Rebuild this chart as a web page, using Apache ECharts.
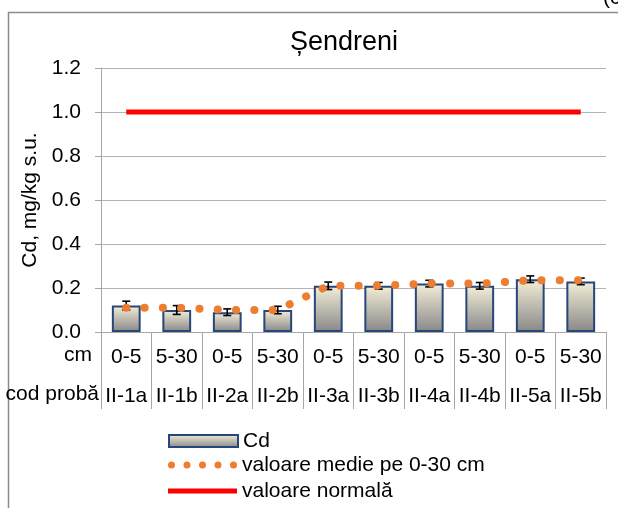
<!DOCTYPE html>
<html>
<head>
<meta charset="utf-8">
<script src="https://cdn.jsdelivr.net/npm/echarts@6/dist/echarts.min.js"></script>
<style>
  html, body { margin: 0; padding: 0; background: #fff; }
  #chart { width: 618px; height: 508px; }
</style>
</head>
<body>
<div id="chart"></div>
<script>
// date
var depths = ['0-5', '5-30', '0-5', '5-30', '0-5', '5-30', '0-5', '5-30', '0-5', '5-30'];
var sampleCodes = ['II-1a', 'II-1b', 'II-2a', 'II-2b', 'II-3a', 'II-3b', 'II-4a', 'II-4b', 'II-5a', 'II-5b'];
var cdValues = [0.12, 0.10, 0.09, 0.10, 0.21, 0.21, 0.22, 0.21, 0.24, 0.23];
var cdErr = [0.02, 0.02, 0.015, 0.017, 0.017, 0.015, 0.015, 0.015, 0.015, 0.015];
var meanValues = [0.11, 0.11, 0.10, 0.10, 0.21, 0.21, 0.22, 0.22, 0.235, 0.235];
var normalValues = [1.0, 1.0, 1.0, 1.0, 1.0, 1.0, 1.0, 1.0, 1.0, 1.0];
var yTicks = { min: 0, max: 1.2, interval: 0.2 };

var font = 'Liberation Sans, Arial, sans-serif';
var gray = '#a6a6a6';
var orange = '#ed7d31';

var chart = echarts.init(document.getElementById('chart'));

var barFill = new echarts.graphic.LinearGradient(0, 0, 0, 1, [
    { offset: 0, color: '#f4efd8' },
    { offset: 1, color: '#878787' }
]);

// iconul din legenda pentru linia punctata: 5 puncte
var dotsIcon = 'path://';
for (var k = 0; k < 5; k++) {
    var cx = 3.5 + k * 15.5;
    dotsIcon += 'M' + (cx - 3.5) + ',3.5a3.5,3.5 0 1,0 7,0a3.5,3.5 0 1,0 -7,0Z';
}

// o legenda pe rand, ca sa stea exact unde trebuie
function legendRow(name, top, icon, h) {
    return {
        orient: 'vertical',
        left: 168,
        top: top,
        padding: 0,
        itemWidth: 69,
        itemHeight: h,
        icon: icon,
        selectedMode: false,
        textStyle: { fontFamily: font, fontSize: 21, lineHeight: 24, color: '#000' },
        data: [name]
    };
}

var option = {
    backgroundColor: '#fff',
    animation: false,
    textStyle: { fontFamily: font },
    title: {
        text: 'Șendreni',
        left: 285,
        top: 24,
        textStyle: { fontFamily: font, fontSize: 27, fontWeight: 'normal', color: '#000' }
    },
    grid: { left: 101, right: 12, top: 68, bottom: 176 },
    legend: [
        legendRow('Cd', 429, 'rect', 12),
        legendRow('valoare medie pe 0-30 cm', 453, dotsIcon, 7),
        legendRow('valoare normală', 479, 'rect', 5)
    ],
    graphic: [
        { // chenarul graficului
            type: 'rect',
            shape: { x: 8.5, y: 12.5, width: 700, height: 600 },
            style: { fill: 'none', stroke: '#8c8c8c', lineWidth: 1.5 },
            silent: true
        },
        {
            type: 'text', left: 603, top: -12,
            style: { text: '(c', font: '21px ' + font, fill: '#000' }
        },
        {
            type: 'text', right: 618 - 92, top: 345,
            style: { text: 'cm', font: '21px ' + font, fill: '#000' }
        },
        {
            type: 'text', right: 618 - 99, top: 384,
            style: { text: 'cod probă', font: '21px ' + font, fill: '#000' }
        }
    ],
    xAxis: {
        type: 'category',
        data: depths,
        axisLine: { lineStyle: { color: gray, width: 1 } },
        axisTick: { show: true, interval: 0, length: 77, lineStyle: { color: gray } },
        axisLabel: {
            interval: 0,
            margin: 6,
            color: '#000',
            fontSize: 21,
            lineHeight: 39,
            fontFamily: font,
            formatter: function(v, i) { return v + '\n' + sampleCodes[i]; }
        }
    },
    yAxis: {
        type: 'value',
        min: yTicks.min,
        max: yTicks.max,
        interval: yTicks.interval,
        name: 'Cd, mg/kg s.u.',
        nameLocation: 'middle',
        nameGap: 58,
        nameTextStyle: { fontFamily: font, fontSize: 21, color: '#000' },
        axisLine: { show: true, lineStyle: { color: gray } },
        axisTick: { show: true, length: 6, lineStyle: { color: gray } },
        axisLabel: {
            color: '#000', fontSize: 21, fontFamily: font, margin: 20,
            formatter: function(v) { return v.toFixed(1); }
        },
        splitLine: { lineStyle: { color: '#b4b4b4', width: 1 } }
    },
    series: [
        {
            name: 'Cd',
            type: 'bar',
            data: cdValues,
            barWidth: '57%',
            itemStyle: { color: barFill, borderColor: '#27467a', borderWidth: 2 },
            z: 2
        },
        {
            name: 'err',
            type: 'custom',
            data: cdValues.map(function(v, i) { return [i, v, cdErr[i]]; }),
            encode: { x: 0, y: 1 },
            z: 3,
            renderItem: function(params, api) {
                var i = api.value(0), v = api.value(1), e = api.value(2);
                var top = api.coord([i, v + e]);
                var bot = api.coord([i, v - e]);
                var hw = 4;
                var st = { stroke: '#000', lineWidth: 1.6 };
                return {
                    type: 'group',
                    children: [
                        { type: 'line', shape: { x1: top[0], y1: top[1], x2: bot[0], y2: bot[1] }, style: st },
                        { type: 'line', shape: { x1: top[0] - hw, y1: top[1], x2: top[0] + hw, y2: top[1] }, style: st },
                        { type: 'line', shape: { x1: bot[0] - hw, y1: bot[1], x2: bot[0] + hw, y2: bot[1] }, style: st }
                    ]
                };
            }
        },
        {
            name: 'valoare medie pe 0-30 cm',
            type: 'line',
            data: meanValues,
            symbol: 'none',
            z: 4,
            lineStyle: { color: orange, width: 8, type: [0.1, 18.2], cap: 'round' },
            itemStyle: { color: orange }
        },
        {
            name: 'valoare normală',
            type: 'line',
            data: normalValues,
            symbol: 'none',
            z: 4,
            lineStyle: { color: '#ff0000', width: 5 },
            itemStyle: { color: '#ff0000' }
        }
    ]
};

chart.setOption(option);
</script>
</body>
</html>
